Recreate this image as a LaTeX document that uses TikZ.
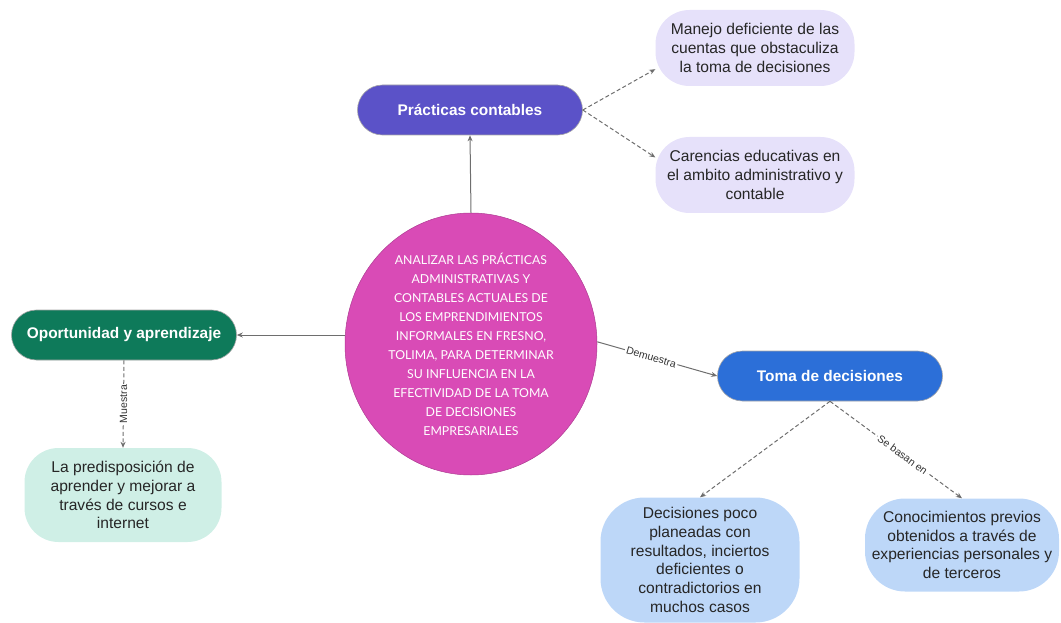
\documentclass[tikz,border=0pt]{standalone}
\usepackage{fontspec}
\setmainfont{Liberation Sans}
\newfontfamily\capfont{Lato}
\usetikzlibrary{shapes.geometric,arrows.meta,positioning}

\definecolor{purpleA}{HTML}{5B52C8}
\definecolor{lavender}{HTML}{E6E1FA}
\definecolor{magentaC}{HTML}{D94BB6}
\definecolor{greenA}{HTML}{0E7A5A}
\definecolor{mint}{HTML}{CFEFE6}
\definecolor{blueA}{HTML}{2C6FD8}
\definecolor{skyB}{HTML}{BDD7F8}
\definecolor{linkgray}{HTML}{6E6E6E}

\tikzset{
  title/.style={rounded corners=25pt, fill=#1, draw=black!35, line width=0.6pt,
    text=white, font=\bfseries\fontsize{15.4}{18}\selectfont,
    minimum width=225pt, minimum height=50pt},
  leaf/.style={rounded corners=34pt, fill=#1, text=black!85, align=center,
    font=\fontsize{15.6}{18.8}\selectfont, inner sep=1pt},
  link/.style={draw=linkgray, line width=1pt, -{Stealth[length=6pt,width=5pt]}},
  dlink/.style={link, dash pattern=on 4pt off 2.5pt},
  tag/.style={fill=white, text=black!80, inner sep=1.5pt, font=\fontsize{10.5}{12}\selectfont}
}

\begin{document}
\begin{tikzpicture}[x=1pt,y=-1pt]
\useasboundingbox (0,0) rectangle (1061,623);

% Central objective
\node[ellipse, fill=magentaC, draw=magentaC!80!black, line width=0.5pt, text=white,
  minimum width=252pt, minimum height=262pt, align=center, inner xsep=0pt, inner ysep=-3pt,
  font=\capfont\fontsize{12.3}{19}\selectfont] (centro) at (471,344)
  {ANALIZAR LAS PRÁCTICAS\\ ADMINISTRATIVAS Y\\ CONTABLES ACTUALES DE\\
   LOS EMPRENDIMIENTOS\\ INFORMALES EN FRESNO,\\ TOLIMA, PARA DETERMINAR\\
   SU INFLUENCIA EN LA\\ EFECTIVIDAD DE LA TOMA\\ DE DECISIONES\\ EMPRESARIALES};

% Main topics
\node[title=purpleA] (prac) at (470,110) {Prácticas contables};
\node[title=greenA] (oport) at (124,335) {Oportunidad y aprendizaje};
\node[title=blueA] (toma) at (830,376) {Toma de decisiones};

% Details
\node[leaf=lavender, minimum width=199pt, minimum height=76pt] (manejo) at (755,48)
  {Manejo deficiente de las\\ cuentas que obstaculiza\\ la toma de decisiones};
\node[leaf=lavender, minimum width=199pt, minimum height=76pt] (carencias) at (755,175)
  {Carencias educativas en\\ el ambito administrativo y\\ contable};
\node[leaf=mint, minimum width=197pt, minimum height=94pt] (predis) at (123,495)
  {La predisposición de\\ aprender y mejorar a\\ través de cursos e\\ internet};
\node[leaf=skyB, rounded corners=44pt, minimum width=199pt, minimum height=125pt] (decis) at (700,560)
  {Decisiones poco\\ planeadas con\\ resultados, inciertos\\ deficientes o\\ contradictorios en\\ muchos casos};
\node[leaf=skyB, rounded corners=40pt, minimum width=194pt, minimum height=93pt] (conoc) at (962,545)
  {Conocimientos previos\\ obtenidos a través de\\ experiencias personales y\\ de terceros};

% Connectors
\draw[link] (centro.north) -- (prac.south);
\draw[dlink] (prac.east) -- (manejo.192);
\draw[dlink] (prac.east) -- (carencias.170);
\draw[link] (oport.east -| centro.west) -- (oport.east);
\draw[dlink] (oport.south) -- node[tag, rotate=90] {Muestra} (predis.north);
\draw[link] (centro.1) -- node[tag, sloped, pos=0.45] {Demuestra} (toma.west);
\draw[dlink] (toma.south) -- (decis.north);
\draw[dlink] (toma.south) -- node[tag, sloped, pos=0.55] {Se basan en} (conoc.north);
\end{tikzpicture}
\end{document}
